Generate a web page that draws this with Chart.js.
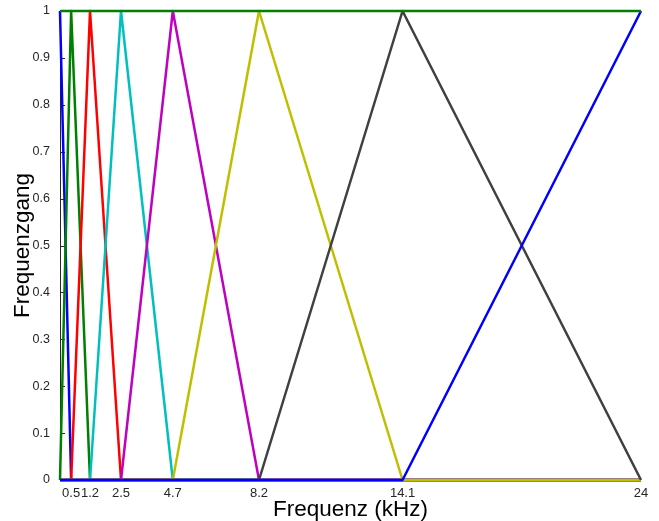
<!DOCTYPE html>
<html>
<head>
<meta charset="utf-8">
<script src="https://cdn.jsdelivr.net/npm/chart.js@4.4.1/dist/chart.umd.min.js"></script>
<style>
  html, body { margin: 0; padding: 0; background: #fff; }
  #wrap { width: 659px; height: 521px; }
</style>
</head>
<body>
<div id="wrap"><canvas id="fb"></canvas></div>
<script>
// Mittenfrequenzen der Dreiecksfilter (kHz)
const centers = [0, 0.46, 1.24, 2.52, 4.66, 8.22, 14.15, 24];
const tickLabels = ['0.5', '1.2', '2.5', '4.7', '8.2', '14.1', '24'];
const tickPos = [0.46, 1.24, 2.52, 4.66, 8.22, 14.15, 24];
// Summe aller Filter
const sumLevel = [1, 1];
// MATLAB Farbreihenfolge b g r c m y k
const colors = ['#0000ff', '#008000', '#ff0000', '#00bfbf', '#bf00bf', '#bfbf00', '#404040'];

function filterPoints(k) {
    const pts = [];
    const lo = k > 0 ? centers[k - 1] : null;
    const hi = k < centers.length - 1 ? centers[k + 1] : null;
    if (lo !== null && lo > 0) pts.push({ x: 0, y: 0 });
    if (lo !== null) pts.push({ x: lo, y: 0 });
    pts.push({ x: centers[k], y: 1 });
    if (hi !== null) pts.push({ x: hi, y: 0 });
    if (hi !== null && hi < 24) pts.push({ x: 24, y: 0 });
    return pts;
}

const datasets = [];
centers.forEach((c, k) => {
    datasets.push({
        data: filterPoints(k),
        borderColor: colors[k % colors.length],
        order: 20 - k
    });
});
datasets.push({
    data: [{ x: 0, y: sumLevel[0] }, { x: 24, y: sumLevel[1] }],
    borderColor: colors[datasets.length % colors.length],
    order: 0
});
datasets.forEach(d => {
    d.showLine = true;
    d.borderWidth = 2.5;
    d.borderJoinStyle = 'round';
    d.pointRadius = 0;
    d.fill = false;
    d.tension = 0;
    d.clip = false;
});

// kleine Striche nach innen wie bei MATLAB
const innerTicks = {
    id: 'innerTicks',
    beforeDatasetsDraw(chart) {
        const { ctx, scales: { y }, chartArea } = chart;
        ctx.save();
        ctx.strokeStyle = '#262626';
        ctx.lineWidth = 1;
        ctx.beginPath();
        y.ticks.forEach(t => {
            const py = Math.round(y.getPixelForValue(t.value)) + 0.5;
            ctx.moveTo(chartArea.left, py);
            ctx.lineTo(chartArea.left + 5, py);
        });
        ctx.stroke();
        ctx.restore();
    }
};

new Chart(document.getElementById('fb'), {
    type: 'scatter',
    data: { datasets },
    options: {
        responsive: true,
        maintainAspectRatio: false,
        animation: false,
        layout: { padding: { top: 11, right: 18, left: 0, bottom: 0 } },
        plugins: { legend: { display: false }, tooltip: { enabled: false } },
        scales: {
            x: {
                type: 'linear', min: 0, max: 24,
                afterBuildTicks: s => { s.ticks = tickPos.map(v => ({ value: v })); },
                afterFit: s => { s.height = 41; s.paddingLeft = 0; s.paddingRight = 0; },
                grid: { display: false, drawTicks: false },
                border: { display: false },
                ticks: {
                    padding: 6,
                    maxRotation: 0,
                    autoSkip: false,
                    color: '#262626',
                    font: { family: 'Liberation Sans, Arial', size: 13 },
                    callback: (v, i) => tickLabels[i]
                },
                title: {
                    display: true, text: 'Frequenz (kHz)', color: '#000',
                    padding: { top: 0, bottom: 0 },
                    font: { family: 'Liberation Sans, Arial', size: 22.5, lineHeight: 1 }
                }
            },
            y: {
                min: 0, max: 1,
                afterFit: s => { s.width = 60; s.paddingTop = 0; s.paddingBottom = 0; },
                grid: { display: false, drawTicks: false },
                border: { display: true, color: '#262626', width: 1 },
                ticks: {
                    stepSize: 0.1,
                    padding: 10,
                    color: '#262626',
                    font: { family: 'Liberation Sans, Arial', size: 12.5 },
                    callback: v => Math.round(v * 10) / 10
                },
                title: {
                    display: true, text: 'Frequenzgang', color: '#000',
                    padding: { top: 12, bottom: 4 },
                    font: { family: 'Liberation Sans, Arial', size: 22.5, lineHeight: 1 }
                }
            }
        }
    },
    plugins: [innerTicks]
});
</script>
</body>
</html>
